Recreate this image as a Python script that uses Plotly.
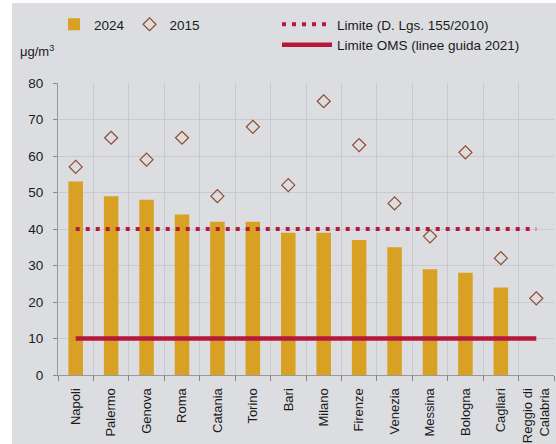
import plotly.graph_objects as go

cities = ["Napoli", "Palermo", "Genova", "Roma", "Catania", "Torino", "Bari",
          "Milano", "Firenze", "Venezia", "Messina", "Bologna", "Cagliari",
          "Reggio di<br>Calabria"]
values_2024 = [53, 49, 48, 44, 42, 42, 39, 39, 37, 35, 29, 28, 24, None]
values_2015 = [57, 65, 59, 65, 49, 68, 52, 75, 63, 47, 38, 61, 32, 21]
limit_dlgs = 40
limit_oms = 10
y_ticks = [0, 10, 20, 30, 40, 50, 60, 70, 80]

W, H = 556, 444
BG = "#dcdde0"
GOLD = "#d9a124"
RED = "#b5183a"
BROWN = "#8e4b2c"
FONT = "Arial, 'Liberation Sans', sans-serif"

fig = go.Figure()
fig.add_trace(go.Bar(x=cities, y=values_2024, name="2024", marker_color=GOLD,
                     marker_line_width=0, width=0.41, legend="legend"))
fig.add_trace(go.Scatter(x=cities, y=values_2015, name="2015", mode="markers",
                         marker=dict(symbol="diamond-open", size=10, color=BROWN,
                                     line=dict(width=1.2, color=BROWN)),
                         legend="legend"))
fig.add_trace(go.Scatter(x=cities, y=[limit_dlgs] * len(cities),
                         name="Limite (D. Lgs. 155/2010)", mode="lines",
                         line=dict(color=RED, width=4, dash="4px,6px"),
                         legend="legend2"))
fig.add_trace(go.Scatter(x=cities, y=[limit_oms] * len(cities),
                         name="Limite OMS (linee guida 2021)", mode="lines",
                         line=dict(color=RED, width=4.5),
                         legend="legend2"))

plot_l, plot_r, plot_t, plot_b = 58, 554, 83, 375
fig.update_layout(
    width=W, height=H,
    margin=dict(l=plot_l, r=W - plot_r, t=plot_t, b=H - plot_b, autoexpand=False),
    paper_bgcolor=BG, plot_bgcolor=BG,
    font=dict(family=FONT, size=13, color="#1a1a1a"),
    showlegend=True,
    legend=dict(orientation="h", xref="container", yref="container",
                x=54 / W, xanchor="left", y=1 - 9 / H, yanchor="top",
                bgcolor="rgba(0,0,0,0)", font=dict(size=13.5), itemwidth=30,
                traceorder="normal"),
    legend2=dict(orientation="v", xref="container", yref="container",
                 x=277 / W, xanchor="left", y=1 - 9 / H, yanchor="top",
                 bgcolor="rgba(0,0,0,0)", font=dict(size=13.5), itemwidth=50,
                 tracegroupgap=0),
    xaxis=dict(type="category", tickangle=-90, tickson="boundaries",
               ticks="outside", ticklen=5, tickcolor="#888888",
               showline=True, linecolor="#999999", linewidth=1,
               showgrid=True, gridcolor="#c9cacd", gridwidth=1,
               automargin=False, ticklabelstandoff=7,
               tickfont=dict(size=13, color="#1a1a1a"), range=[-0.5, 13.5]),
    yaxis=dict(range=[0, 80], tickvals=y_ticks, ticks="outside", ticklen=4,
               tickcolor="#888888", showline=True, linecolor="#999999",
               linewidth=1, showgrid=True, gridcolor="#c9cacd", gridwidth=1,
               zeroline=False, automargin=False, ticklabelstandoff=7,
               tickfont=dict(size=13.5, color="#1a1a1a")),
    shapes=[dict(type="rect", xref="paper", yref="paper",
                 x0=-0.2, x1=(12 - plot_l) / (plot_r - plot_l), y0=-0.5, y1=1.5,
                 fillcolor="white", line_width=0, layer="below"),
            dict(type="rect", xref="paper", yref="paper",
                 x0=-0.2, x1=1.1, y0=(plot_b - 3) / (plot_b - plot_t), y1=1.5,
                 fillcolor="white", line_width=0, layer="below")],
    annotations=[dict(text="μg/m<sup>3</sup>", xref="paper", yref="paper",
                      x=(18 - plot_l) / (plot_r - plot_l),
                      y=(plot_b - 51) / (plot_b - plot_t), xanchor="left",
                      yanchor="middle", showarrow=False,
                      font=dict(size=13, color="#1a1a1a"))],
)

fig.write_html("out.html", config={"displayModeBar": False},
               post_script="document.body.style.margin='0';"
                           "document.body.style.background='white';")
